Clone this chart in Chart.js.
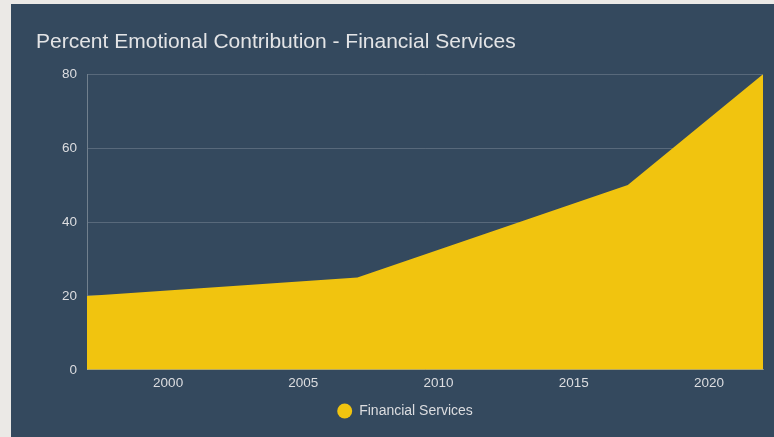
<!DOCTYPE html>
<html>
<head>
<meta charset="utf-8">
<script src="https://cdn.jsdelivr.net/npm/chart.js@4/dist/chart.umd.min.js"></script>
<style>
  html, body { margin: 0; padding: 0; background: #ebe9e6; width: 774px; height: 437px; overflow: hidden; }
  #panel { position: absolute; left: 11px; top: 4px; width: 763px; height: 433px; background: #34495e; }
  #chart { display: block; }
</style>
</head>
<body>
<div id="panel"><canvas id="chart" width="763" height="433"></canvas></div>
<script>
// Emotional contribution share for the Financial Services category
const years = [1997, 2007, 2017, 2022];
const emotionalShare = [20, 25, 50, 80];
const yearTicks = [2000, 2005, 2010, 2015, 2020];
const shareTicks = [0, 20, 40, 60, 80];

const textColor = '#dcdde0';
const gridColor = 'rgba(255,255,255,0.18)';
const fontFamily = '"Liberation Sans", Arial, sans-serif';

Chart.defaults.font.family = fontFamily;
Chart.defaults.color = textColor;

new Chart(document.getElementById('chart'), {
  type: 'line',
  data: {
    datasets: [{
      label: 'Financial Services',
      data: years.map((y, i) => ({ x: y, y: emotionalShare[i] })),
      backgroundColor: '#f1c40f',
      borderColor: '#f1c40f',
      borderWidth: 0,
      fill: 'origin',
      pointRadius: 0,
      tension: 0
    }]
  },
  options: {
    responsive: false,
    animation: false,
    layout: { padding: { left: 25, right: 0, top: 16, bottom: 9 } },
    plugins: {
      title: {
        display: true,
        text: 'Percent Emotional Contribution - Financial Services',
        align: 'start',
        color: '#e3e4e6',
        font: { size: 21, weight: 'normal', family: fontFamily },
        padding: { top: 10, bottom: 19 }
      },
      legend: {
        position: 'bottom',
        labels: {
          usePointStyle: true,
          pointStyle: 'circle',
          pointStyleWidth: 15,
          boxHeight: 10.6,
          padding: 8,
          color: textColor,
          font: { size: 14 }
        }
      },
      tooltip: { enabled: false }
    },
    scales: {
      x: {
        type: 'linear',
        min: years[0],
        max: years[years.length - 1],
        afterBuildTicks: s => { s.ticks = yearTicks.map(v => ({ value: v })); },
        grid: { display: false, drawTicks: false },
        border: { display: true, color: 'rgba(255,255,255,0.3)' },
        ticks: { color: textColor, font: { size: 13.5 }, padding: 5, maxRotation: 0, callback: v => String(v) }
      },
      y: {
        min: 0,
        max: 80,
        afterBuildTicks: s => { s.ticks = shareTicks.map(v => ({ value: v })); },
        afterFit: s => { s.width = 51; },
        grid: { color: gridColor, drawTicks: false },
        border: { display: true, color: 'rgba(255,255,255,0.3)' },
        ticks: { color: textColor, font: { size: 13.5 }, padding: 10, callback: v => String(v) }
      },
      // empty right gutter beside the plot
      gutter: {
        type: 'linear',
        position: 'right',
        display: true,
        afterFit: s => { s.width = 11; },
        grid: { display: false, drawTicks: false },
        border: { display: false },
        ticks: { display: false }
      }
    }
  }
});
</script>
</body>
</html>
